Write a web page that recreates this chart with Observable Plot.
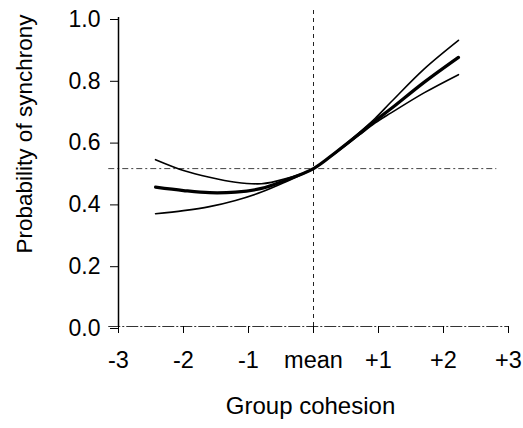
<!DOCTYPE html>
<html>
<head>
<meta charset="utf-8">
<script src="https://cdn.jsdelivr.net/npm/d3@7"></script>
<script src="https://cdn.jsdelivr.net/npm/@observablehq/plot@0.6"></script>
<style>
  html, body { margin: 0; padding: 0; background: #fff; }
</style>
</head>
<body>
<div id="chart"></div>
<script>
// Data
const cohesion = [-2.43, -2.0, -1.6, -1.2, -0.8, -0.45, 0, 0.35, 0.7, 0.95, 1.2, 1.7, 2.23];
const middle   = [0.451, 0.440, 0.433, 0.435, 0.447, 0.472, 0.511, 0.565, 0.623, 0.666, 0.706, 0.790, 0.871];
const upper    = [0.540, 0.505, 0.483, 0.467, 0.462, 0.477, 0.511, 0.566, 0.627, 0.674, 0.728, 0.833, 0.926];
const lower    = [0.365, 0.375, 0.388, 0.408, 0.435, 0.466, 0.511, 0.563, 0.619, 0.659, 0.692, 0.756, 0.815];

const xTicks = [-3, -2, -1, 0, 1, 2, 3];
const xTickLabels = ["-3", "-2", "-1", "mean", "+1", "+2", "+3"];
const yTicks = [0, 0.2, 0.4, 0.6, 0.8, 1.0];

const chanceLevel = 0.511;
const meanCohesion = 0;

const toRows = (ys) => cohesion.map((x, i) => ({x, y: ys[i]}));

const font = "'Liberation Sans', Arial, Helvetica, sans-serif";

const chart = Plot.plot({
  width: 523,
  height: 428,
  marginLeft: 118,
  marginRight: 15,
  marginTop: 17,
  marginBottom: 102,
  style: {fontFamily: font, fontSize: "22px", color: "#000", background: "#fff"},
  x: {domain: [-3, 3]},
  y: {domain: [0, 1]},
  marks: [
    // x axis line (dash-dot)
    Plot.ruleY([0], {x1: -3.15, x2: 3, stroke: "#333", strokeWidth: 1, strokeDasharray: "12,2,2,2"}),
    // reference lines
    Plot.ruleY([chanceLevel], {x1: -3.15, x2: 2.82, stroke: "#444", strokeWidth: 1, strokeDasharray: "6,3,2,3"}),
    Plot.ruleX([meanCohesion], {y1: 0, y2: 1.03, stroke: "#222", strokeWidth: 1, strokeDasharray: "4,4"}),
    // y axis line
    Plot.ruleX([-3], {y1: 0, y2: 1, stroke: "#000", strokeWidth: 1.5}),
    Plot.axisY({ticks: yTicks, tickFormat: d3.format(".1f"), tickSize: 8, tickPadding: 10, fontSize: 23, label: null, dy: 2}),
    Plot.axisX({ticks: xTicks, tickFormat: (d) => xTickLabels[xTicks.indexOf(d)], tickSize: 7, tickPadding: 18, fontSize: 23.5, label: null}),
    // curves
    Plot.line(toRows(upper), {x: "x", y: "y", stroke: "#000", strokeWidth: 1.6, curve: "catmull-rom"}),
    Plot.line(toRows(lower), {x: "x", y: "y", stroke: "#000", strokeWidth: 1.6, curve: "catmull-rom"}),
    Plot.line(toRows(middle), {x: "x", y: "y", stroke: "#000", strokeWidth: 3.2, curve: "catmull-rom"}),
    // axis titles
    Plot.text(["Group cohesion"], {frameAnchor: "bottom", lineAnchor: "bottom", textAnchor: "middle", dx: -3, dy: 87, fontSize: 24, fill: "#000"}),
    Plot.text(["Probability of synchrony"], {frameAnchor: "left", lineAnchor: "bottom", textAnchor: "middle", rotate: -90, dx: -87, dy: -38, fontSize: 22.5, fill: "#000"})
  ]
});

document.getElementById("chart").appendChild(chart);
</script>
</body>
</html>
